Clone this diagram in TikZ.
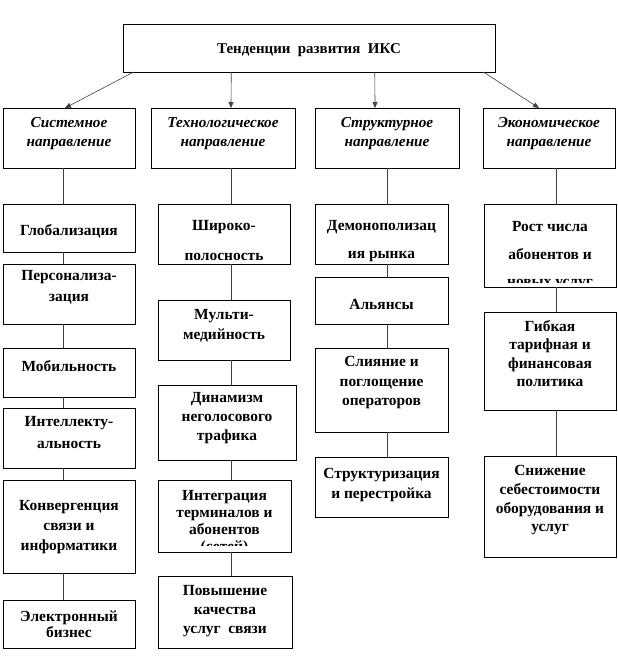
\documentclass[tikz,border=0pt]{standalone}
\usepackage{fontspec}
\setmainfont{Liberation Serif}
\usetikzlibrary{arrows.meta}
\newcommand\mytf[1]{\bfseries\fontsize{15.5}{#1}\selectfont}
\newcommand\myhf{\bfseries\itshape\fontsize{15.3}{19}\selectfont}
\newcommand\boxat[5]{\node[box,minimum width={(#4-#2)*1bp},minimum height={(#5-#3)*1bp}] (#1) at ({(#2+#4)/2},{(#3+#5)/2}) {};}
\begin{document}
\begin{tikzpicture}[x=1bp,y=-1bp,
  box/.style={draw=black,line width=0.6bp,inner sep=0,outer sep=0},
  txt/.style={anchor=north,align=center,inner sep=0,text=black},
  link/.style={draw=black!75,line width=0.6bp},
  arr/.style={link,-{Triangle[length=6bp,width=5bp]}}]
\useasboundingbox[fill=white] (0,0) rectangle (618,660);
% root
\boxat{root}{123}{24}{495}{72}
\node[txt,font={\bfseries\fontsize{15}{18}\selectfont}] (roott) at (309,43.5) {Тенденции\ \ развития\ \ ИКС};
% headers
\boxat{h1}{3}{108}{135}{168}
\boxat{h2}{151}{108}{295}{168}
\boxat{h3}{315}{108}{459}{168}
\boxat{h4}{483}{108}{615}{168}
\node[txt,font=\myhf] (h1t) at (69,117.5) {Системное\\направление};
\node[txt,font=\myhf] (h2t) at (223,117.5) {Технологическое\\направление};
\node[txt,font=\myhf] (h3t) at (387,117.5) {Структурное\\направление};
\node[txt,font=\myhf] (h4t) at (549,117.5) {Экономическое\\направление};
% arrows
\draw[arr] ([xshift=-176]root.south) -- ([xshift=-4]h1.north);
\draw[arr] ([xshift=-78]root.south) -- ([xshift=8]h2.north);
\draw[arr] ([xshift=66]root.south) -- ([xshift=-12]h3.north);
\draw[arr] ([xshift=175]root.south) -- ([xshift=-10]h4.north);
% column 1
\boxat{a1}{3}{204}{135}{252}
\boxat{a2}{3}{264}{135}{324}
\boxat{a3}{3}{348}{135}{397}
\boxat{a4}{3}{408}{135}{468}
\boxat{a5}{3}{480}{135}{573}
\boxat{a6}{3}{600}{135}{648}
\node[txt,font=\mytf{20}] (a1t) at (69,224.5) {Глобализация};
\node[txt,font=\mytf{21}] (a2t) at (69,270.5) {Персонализа-\\зация};
\node[txt,font=\mytf{20}] (a3t) at (69,360.5) {Мобильность};
\node[txt,font=\mytf{22}] (a4t) at (69,416.5) {Интеллекту-\\альность};
\node[txt,font=\mytf{20}] (a5t) at (69,500.5) {Конвергенция\\связи и\\информатики};
\node[txt,font=\mytf{16}] (a6t) at (69,610.5) {Электронный\\бизнес};
% column 2
\boxat{b1}{158}{204}{290}{264}
\boxat{b2}{158}{300}{290}{360}
\boxat{b3}{158}{385}{296}{460}
\boxat{b4}{158}{480}{291}{552}
\boxat{b5}{158}{576}{292}{648}
\node[txt,font=\mytf{30}] (b1t) at (224,220.5) {Широко-\\полосность};
\node[txt,font=\mytf{20}] (b2t) at (224,309.5) {Мульти-\\медийность};
\node[txt,font=\mytf{19}] (b3t) at (227,392.5) {Динамизм\\неголосового\\трафика};
\begin{scope}
\clip (b4.north west) rectangle ([yshift=7bp]b4.south east);
\node[txt,font=\mytf{17}] (b4t) at (224.5,490.5) {Интеграция\\терминалов и\\абонентов\\(сетей)};
\end{scope}
\node[txt,font=\mytf{19}] (b5t) at (225,585.5) {Повышение\\качества\\услуг\ \ связи};
% column 3
\boxat{c1}{315}{204}{448}{264}
\boxat{c2}{315}{277}{448}{324}
\boxat{c3}{315}{348}{448}{432}
\boxat{c4}{315}{457}{448}{517}
\node[txt,font=\mytf{28}] (c1t) at (381.5,220.5) {Демонополизац\\ия рынка};
\node[txt,font=\mytf{20}] (c2t) at (381.5,299.5) {Альянсы};
\node[txt,font=\mytf{19.5}] (c3t) at (381.5,356.5) {Слияние и\\поглощение\\операторов};
\node[txt,font=\mytf{20}] (c4t) at (381.5,468.5) {Структуризация\\и перестройка};
% column 4
\boxat{d1}{484}{204}{616}{287}
\boxat{d2}{484}{312}{616}{410}
\boxat{d3}{484}{456}{616}{557}
\begin{scope}
\clip (d1.north west) rectangle ([yshift=5bp]d1.south east);
\node[txt,font=\mytf{27.5}] (d1t) at (550,221.5) {Рост числа\\абонентов и\\новых услуг};
\end{scope}
\node[txt,font=\mytf{18.3}] (d2t) at (550,320.5) {Гибкая\\тарифная и\\финансовая\\политика};
\node[txt,font=\mytf{18.7}] (d3t) at (550,465.5) {Снижение\\себестоимости\\оборудования и\\услуг};
% connector lines
\coordinate (v1) at (63,0);
\coordinate (v2) at (231,0);
\coordinate (v3) at (387,0);
\coordinate (v4) at (556,0);
\draw[link] (h1.south -| v1) -- (a1.north -| v1);
\draw[link] (a1.south -| v1) -- (a2.north -| v1);
\draw[link] (a2.south -| v1) -- (a3.north -| v1);
\draw[link] (a3.south -| v1) -- (a4.north -| v1);
\draw[link] (a4.south -| v1) -- (a5.north -| v1);
\draw[link] (a5.south -| v1) -- (a6.north -| v1);
\draw[link] (h2.south -| v2) -- (b1.north -| v2);
\draw[link] (b1.south -| v2) -- (b2.north -| v2);
\draw[link] (b2.south -| v2) -- (b3.north -| v2);
\draw[link] (b3.south -| v2) -- (b4.north -| v2);
\draw[link] (b4.south -| v2) -- (b5.north -| v2);
\draw[link] (h3.south -| v3) -- (c1.north -| v3);
\draw[link] (c1.south -| v3) -- (c2.north -| v3);
\draw[link] (c2.south -| v3) -- (c3.north -| v3);
\draw[link] (c3.south -| v3) -- (c4.north -| v3);
\draw[link] (h4.south -| v4) -- (d1.north -| v4);
\draw[link] (d1.south -| v4) -- (d2.north -| v4);
\draw[link] (d2.south -| v4) -- (d3.north -| v4);
\end{tikzpicture}
\end{document}
